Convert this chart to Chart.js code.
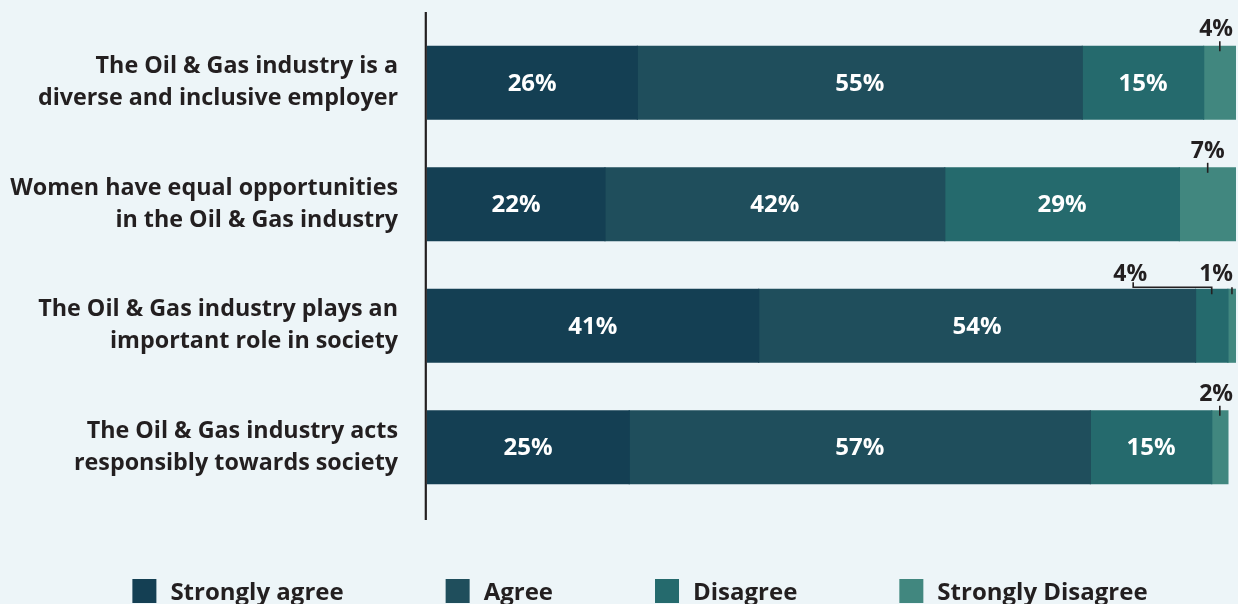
<!DOCTYPE html>
<html>
<head>
<meta charset="utf-8">
<title>Oil &amp; Gas industry perception survey</title>
<script src="https://cdn.jsdelivr.net/npm/chart.js@4.4.0/dist/chart.umd.min.js"></script>
<style>
  html, body { margin: 0; padding: 0; background: #EDF5F8; overflow: hidden; }
  #wrap { position: relative; width: 1238px; height: 604px; }
</style>
</head>
<body>
<div id="wrap"><canvas id="surveyChart"></canvas></div>
<script>
// Survey statements (one per bar, split over two lines)
const statements = [
    ['The Oil & Gas industry is a', 'diverse and inclusive employer'],
    ['Women have equal opportunities', 'in the Oil & Gas industry'],
    ['The Oil & Gas industry plays an', 'important role in society'],
    ['The Oil & Gas industry acts', 'responsibly towards society']
];

// Response shares in percent, per statement
const responses = ['Strongly agree', 'Agree', 'Disagree', 'Strongly Disagree'];
const stronglyAgree = [26, 22, 41, 25];
const agree = [55, 42, 54, 57];
const disagree = [15, 29, 4, 15];
const stronglyDisagree = [4, 7, 1, 2];

const colors = {
    stronglyAgree: '#143F53',
    agree: '#1F4E5C',
    disagree: '#256A6D',
    stronglyDisagree: '#41877F',
    text: '#231F20'
};

const FONT = "'Open Sans', 'Noto Sans', sans-serif";

// Vertical axis line, running a little past the plot area
const axisLinePlugin = {
    id: 'axisLine',
    afterDatasetsDraw(chart) {
        const { ctx, chartArea } = chart;
        ctx.save();
        ctx.strokeStyle = colors.text;
        ctx.lineWidth = 2.2;
        ctx.beginPath();
        ctx.moveTo(chartArea.left - 1.2, chartArea.top - 10);
        ctx.lineTo(chartArea.left - 1.2, chartArea.bottom + 12);
        ctx.stroke();
        ctx.restore();
    }
};

// Percent labels: white inside wide segments, dark with a leader above narrow ones
const segmentLabelsPlugin = {
    id: 'segmentLabels',
    afterDatasetsDraw(chart) {
        const { ctx, chartArea } = chart;
        const rows = chart.data.labels.map(() => []);

        ctx.save();
        ctx.font = `bold 24px ${FONT}`;

        chart.data.datasets.forEach((ds, di) => {
            const meta = chart.getDatasetMeta(di);
            meta.data.forEach((bar, i) => {
                const value = ds.data[i];
                const cx = (bar.x + bar.base) / 2;
                const top = bar.y - bar.height / 2;
                if (value >= 10) {
                    ctx.fillStyle = '#FFFFFF';
                    ctx.textAlign = 'center';
                    ctx.textBaseline = 'middle';
                    ctx.fillText(value + '%', cx, bar.y + 1);
                } else {
                    rows[i].push({ text: value + '%', cx, top });
                }
            });
        });

        ctx.font = `bold 23px ${FONT}`;
        ctx.fillStyle = colors.text;
        ctx.strokeStyle = colors.text;
        ctx.lineWidth = 1.6;
        ctx.textAlign = 'left';
        ctx.textBaseline = 'alphabetic';

        rows.forEach(smalls => {
            const crowded = smalls.length > 1;
            let limit = chartArea.right - 3;
            for (let k = smalls.length - 1; k >= 0; k--) {
                const s = smalls[k];
                const w = ctx.measureText(s.text).width;
                const right = Math.min(s.cx + w / 2, limit);
                const left = right - w;
                const baseline = s.top - (crowded ? 8 : 10);
                ctx.fillText(s.text, left, baseline);

                ctx.beginPath();
                if (s.cx >= left && s.cx <= right) {
                    ctx.moveTo(s.cx, s.top - (crowded ? 2 : 5));
                    ctx.lineTo(s.cx, s.top + 5);
                } else {
                    const tx = left + w / 2 + 3;
                    ctx.moveTo(tx, baseline + 1);
                    ctx.lineTo(tx, s.top - 2);
                    ctx.lineTo(s.cx, s.top - 2);
                    ctx.lineTo(s.cx, s.top + 5);
                }
                ctx.stroke();
                limit = left - 52;
            }
        });
        ctx.restore();
    }
};

// Single-row legend along the bottom edge
const bottomLegendPlugin = {
    id: 'bottomLegend',
    afterDraw(chart) {
        const { ctx } = chart;
        const box = 24;
        const textGap = 14;
        const itemGap = 102;
        const centerX = 640;
        const boxTop = chart.height - 25;
        const baseline = chart.height - 4;

        ctx.save();
        ctx.font = `bold 24px ${FONT}`;
        const items = chart.data.datasets.map(ds => ({
            text: ds.label,
            color: ds.backgroundColor,
            width: box + textGap + ctx.measureText(ds.label).width
        }));
        const total = items.reduce((sum, it) => sum + it.width, 0) + itemGap * (items.length - 1);
        let x = centerX - total / 2;
        items.forEach(it => {
            ctx.fillStyle = it.color;
            ctx.fillRect(x, boxTop, box, box);
            ctx.fillStyle = colors.text;
            ctx.textAlign = 'left';
            ctx.textBaseline = 'alphabetic';
            ctx.fillText(it.text, x + box + textGap, baseline);
            x += it.width + itemGap;
        });
        ctx.restore();
    }
};

const ctx = document.getElementById('surveyChart');

new Chart(ctx, {
    type: 'bar',
    data: {
        labels: statements,
        datasets: [
            { label: responses[0], data: stronglyAgree, backgroundColor: colors.stronglyAgree },
            { label: responses[1], data: agree, backgroundColor: colors.agree },
            { label: responses[2], data: disagree, backgroundColor: colors.disagree },
            { label: responses[3], data: stronglyDisagree, backgroundColor: colors.stronglyDisagree }
        ]
    },
    options: {
        indexAxis: 'y',
        responsive: true,
        maintainAspectRatio: false,
        animation: false,
        barPercentage: 0.6,
        categoryPercentage: 1.0,
        inflateAmount: 0.6,
        layout: {
            padding: { top: 22, right: 2, bottom: 96, left: 0 }
        },
        scales: {
            x: {
                stacked: true,
                min: 0,
                max: 100,
                display: false
            },
            y: {
                stacked: true,
                grid: { display: false, drawTicks: false },
                border: { display: false },
                afterFit(scale) {
                    scale.width = 427;
                    scale.paddingTop = 0;
                    scale.paddingBottom = 0;
                },
                ticks: {
                    padding: 29,
                    color: colors.text,
                    font: { family: FONT, size: 23.3, weight: 'bold', lineHeight: 1.37 }
                }
            }
        },
        plugins: {
            legend: { display: false },
            tooltip: { enabled: false }
        }
    },
    plugins: [axisLinePlugin, segmentLabelsPlugin, bottomLegendPlugin]
});
</script>
</body>
</html>
